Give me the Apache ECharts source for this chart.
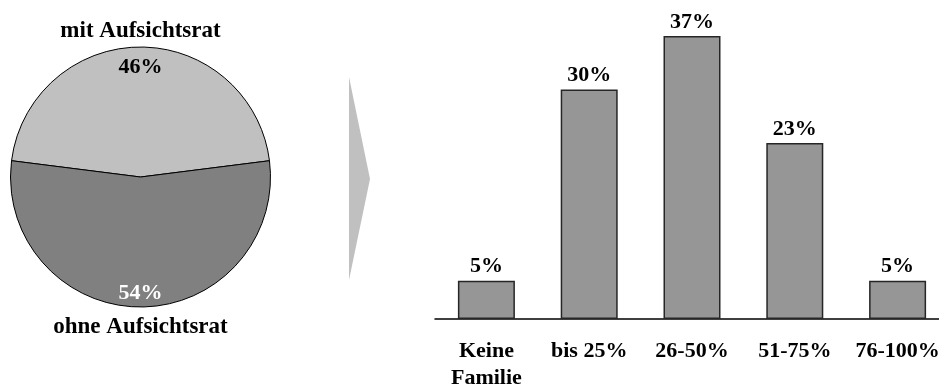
<!DOCTYPE html>
<html>
<head>
<meta charset="utf-8">
<style>
  html, body { margin: 0; padding: 0; background: #fff; }
  #chart { width: 939px; height: 387px; }
</style>
<script src="https://cdn.jsdelivr.net/npm/echarts@6/dist/echarts.min.js"></script>
</head>
<body>
<div id="chart"></div>
<script>
// Aufsichtsrat: share of companies with / without a supervisory board
const boardNames = ['mit Aufsichtsrat', 'ohne Aufsichtsrat'];
const boardShares = [46, 54];

// Family ownership share among companies
const familyCategories = ['Keine\nFamilie', 'bis 25%', '26-50%', '51-75%', '76-100%'];
const familyShares = [5, 30, 37, 23, 5];

const FONT = '"Liberation Serif", "Times New Roman", serif';
const PIE_CENTER = [140.5, 177];
const PIE_RADIUS = 130;
// first slice is centred on the top of the circle
const START_ANGLE = 90 + boardShares[0] / 100 * 180;

const chart = echarts.init(document.getElementById('chart'), null, { renderer: 'canvas' });

const pieData = boardNames.map((n, i) => ({ name: n, value: boardShares[i] }));

// Transparent ring that only carries the label of one slice; the label sits
// halfway between the ring's inner and outer radius.
function labelRing(ring, index, label) {
  return {
    type: 'pie',
    center: PIE_CENTER,
    radius: ring,
    startAngle: START_ANGLE,
    clockwise: true,
    silent: true,
    itemStyle: { color: 'rgba(0,0,0,0)' },
    labelLine: { show: false },
    label: Object.assign({
      position: 'inside',
      rotate: 0,
      fontFamily: FONT,
      fontWeight: 'bold'
    }, label),
    data: pieData.map((d, i) => ({ ...d, label: { show: i === index } }))
  };
}

chart.setOption({
  animation: false,
  backgroundColor: '#ffffff',
  grid: {
    left: 435, width: 514, top: 13, bottom: 68,
    containLabel: false,
    outerBoundsMode: 'none'
  },
  xAxis: {
    type: 'category',
    data: familyCategories,
    axisLine: { show: true, lineStyle: { color: '#000', width: 1.5 } },
    axisTick: { show: false },
    splitLine: { show: false },
    axisLabel: {
      interval: 0,
      margin: 19,
      color: '#000',
      fontFamily: FONT,
      fontWeight: 'bold',
      fontSize: 22,
      lineHeight: 27
    }
  },
  yAxis: {
    type: 'value',
    min: 0,
    max: 40,
    show: false,
    splitLine: { show: false }
  },
  graphic: [{
    // arrow pointing from the pie to the bar chart
    type: 'polygon',
    shape: { points: [[349, 77], [370, 179], [349, 280]] },
    style: { fill: '#c0c0c0' },
    silent: true
  }],
  series: [
    {
      type: 'pie',
      center: PIE_CENTER,
      radius: [0, PIE_RADIUS],
      startAngle: START_ANGLE,
      clockwise: true,
      silent: true,
      label: { show: false },
      labelLine: { show: false },
      itemStyle: { borderColor: '#000', borderWidth: 1 },
      data: pieData.map((d, i) => ({
        ...d,
        itemStyle: { color: i === 0 ? '#c0c0c0' : '#808080' }
      }))
    },
    // percentages just inside the rim
    labelRing([83, PIE_RADIUS], 0, { color: '#000', fontSize: 22, formatter: p => p.value + '%' }),
    labelRing([97, PIE_RADIUS], 1, { color: '#fff', fontSize: 22, formatter: p => p.value + '%' }),
    // slice names outside the rim
    labelRing([PIE_RADIUS, 156], 0, { color: '#000', fontSize: 23, formatter: p => p.name }),
    labelRing([PIE_RADIUS, 164], 1, { color: '#000', fontSize: 23, formatter: p => p.name }),
    {
      type: 'bar',
      data: familyShares,
      barWidth: 57,
      silent: true,
      itemStyle: { color: '#969696', borderColor: '#262626', borderWidth: 1.5 },
      label: {
        show: true,
        position: 'top',
        distance: 3,
        color: '#000',
        fontFamily: FONT,
        fontWeight: 'bold',
        fontSize: 22,
        formatter: p => p.value + '%'
      }
    }
  ]
});
</script>
</body>
</html>
